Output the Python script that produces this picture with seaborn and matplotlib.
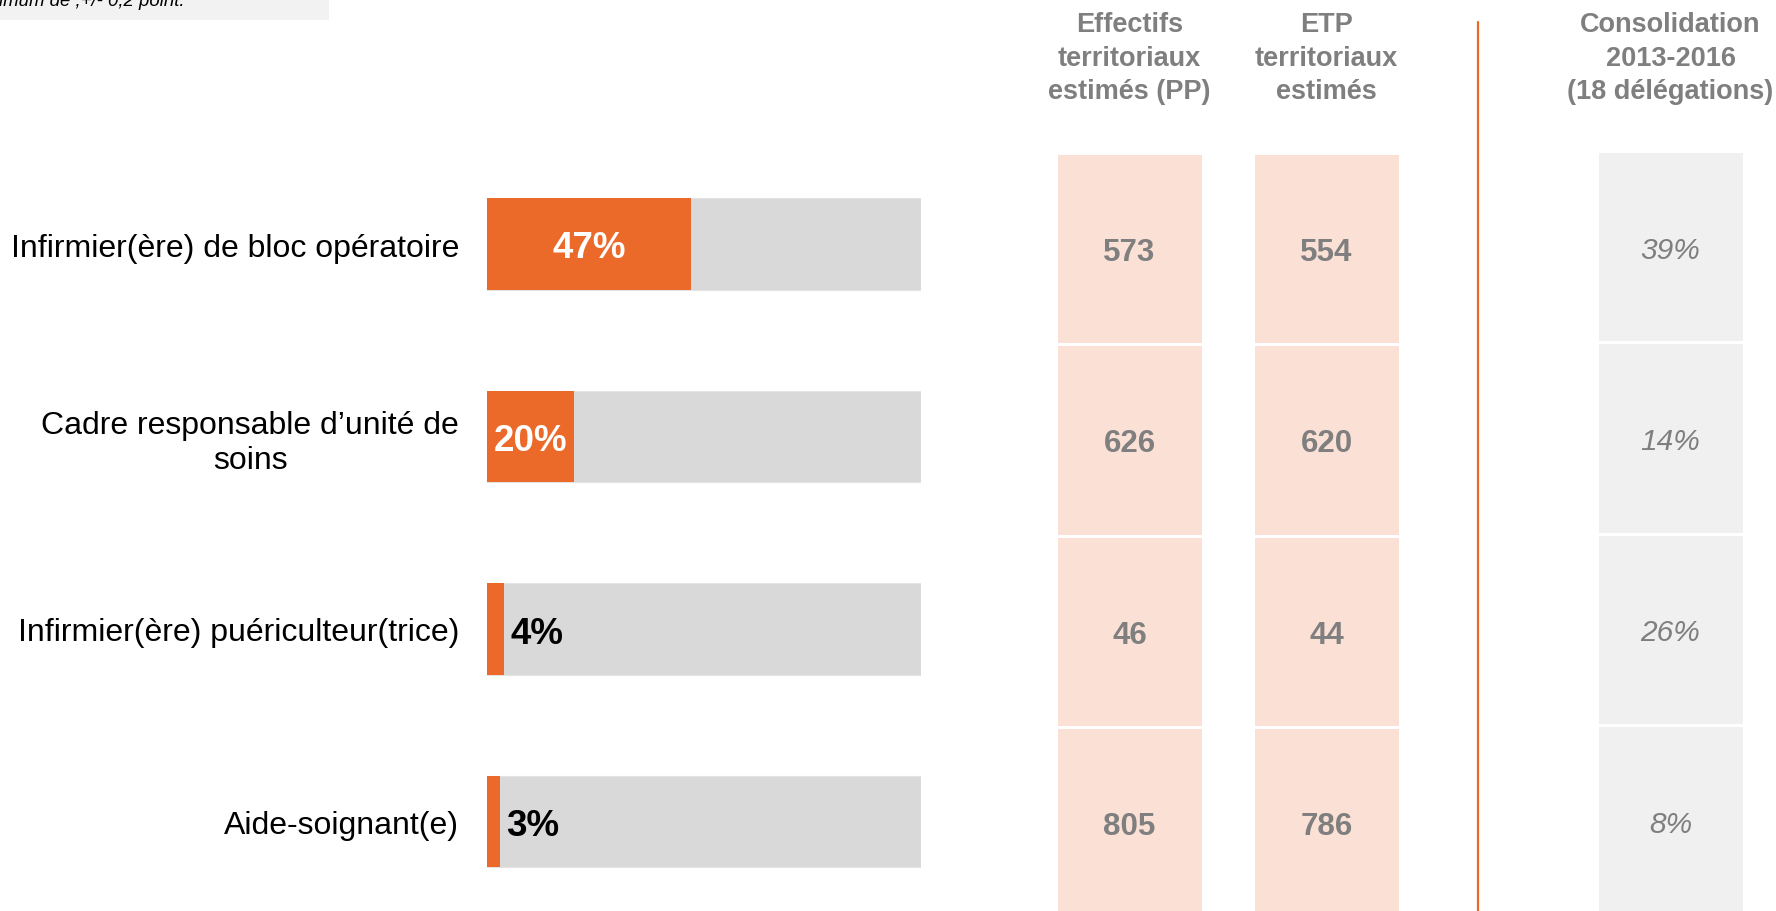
import numpy as np
import pandas as pd
import matplotlib
matplotlib.use("Agg")
import matplotlib.pyplot as plt
from matplotlib.colors import ListedColormap
from matplotlib.patches import Rectangle
import seaborn as sns

# ---- data ----
categories = ["Infirmier(ère) de bloc opératoire",
              "Cadre responsable d’unité de\nsoins",
              "Infirmier(ère) puériculteur(trice)",
              "Aide-soignant(e)"]
share_pct = [47, 20, 4, 3]
effectifs_pp = [573, 626, 46, 805]
etp = [554, 620, 44, 786]
consolidation_pct = [39, 14, 26, 8]
col_headers = ["Effectifs\nterritoriaux\nestimés (PP)",
               "ETP\nterritoriaux\nestimés",
               "Consolidation\n2013-2016\n(18 délégations)"]
note_text = "imum de ,+/- 0,2 point."

# ---- style ----
sns.set_theme(style="white")
plt.rcParams['font.family'] = ['Liberation Sans', 'DejaVu Sans']

ORANGE = "#eb6a2a"
BAR_BG = "#d9d9d9"
PEACH = "#fae0d5"
LIGHT = "#f0f0f0"
GREY_TXT = "#7f7f7f"

W, H = 1776, 912
fig = plt.figure(figsize=(W / 100, H / 100), dpi=100)

def fx(px):
    return px / W

def fy(px):  # px from top -> fig fraction
    return 1 - px / H

# ---- bar panel ----
row_step = 192.5
bar_top = 245 - row_step / 2
ax = fig.add_axes([fx(487), fy(bar_top + 4 * row_step), fx(921 - 487), 4 * row_step / H])
df = pd.DataFrame({"cat": categories, "val": share_pct, "full": [100] * len(categories)})
sns.barplot(data=df, y="cat", x="full", color=BAR_BG, width=0.473, ax=ax,
            saturation=1, edgecolor="#e3e3e3", linewidth=0.8)
sns.barplot(data=df, y="cat", x="val", color=ORANGE, width=0.473, ax=ax,
            saturation=1, linewidth=0)
ax.set_xlim(0, 100)
ax.set_ylim(3.5, -0.5)
ax.set_xlabel("")
ax.set_ylabel("")
ax.set_xticks([])
for s in ax.spines.values():
    s.set_visible(False)
ax.tick_params(axis="y", length=0, pad=20, labelsize=23, labelcolor="black")
for lab in ax.get_yticklabels():
    lab.set_multialignment("center")
    lab.set_linespacing(1.2)
    lab.set_verticalalignment("center_baseline")

for i, v in enumerate(share_pct):
    if v >= 10:
        ax.text(v / 2, i, f"{v}%", ha="center", va="center_baseline", color="white",
                fontsize=26.5, fontweight="bold")
    else:
        ax.text(v + 1.3, i, f"{v}%", ha="left", va="center_baseline", color="black",
                fontsize=26.5, fontweight="bold")

# ---- table columns (heatmaps) ----
cell_h = 191.3
columns = [
    (1057, 154, effectifs_pp, PEACH, [f"{v}" for v in effectifs_pp], "bold", "normal", 22.5),
    (1254, 154, etp, PEACH, [f"{v}" for v in etp], "bold", "normal", 22.5),
    (1598, 152, consolidation_pct, LIGHT, [f"{v}%" for v in consolidation_pct], "normal", "italic", 21.5),
]
col_w = 145
for (x0, y0, vals, colr, labels, weight, style, fs), header in zip(columns, col_headers):
    cax = fig.add_axes([fx(x0 - 1), fy(y0 + 4 * cell_h), fx(col_w + 2), 4 * cell_h / H])
    data = np.array(vals, dtype=float).reshape(-1, 1)
    annot = np.array(labels).reshape(-1, 1)
    sns.heatmap(data, ax=cax, cmap=ListedColormap([colr]), cbar=False,
                annot=annot, fmt="", linewidths=2.0, linecolor="white",
                xticklabels=False, yticklabels=False,
                annot_kws={"color": GREY_TXT, "fontsize": fs, "va": "center_baseline",
                           "fontweight": weight, "fontstyle": style})
    cax.set_facecolor("white")
    fig.text(fx(x0 + col_w / 2), fy(58.5), header, ha="center", va="center",
             fontsize=19.5, fontweight="bold", color=GREY_TXT, linespacing=1.38)

# ---- separator line ----
fig.add_artist(plt.Line2D([fx(1478), fx(1478)], [fy(23), fy(912)],
                          color=ORANGE, linewidth=1.6, transform=fig.transFigure))

# ---- note box top-left ----
fig.add_artist(Rectangle((0, fy(21)), fx(329), 21 / H, transform=fig.transFigure,
                         facecolor="#f2f2f2", edgecolor="none"))
fig.text(fx(-1), fy(6), note_text, ha="left", va="baseline", fontsize=13.4,
         fontstyle="italic", color="black")

fig.savefig("out.png", dpi=100)
